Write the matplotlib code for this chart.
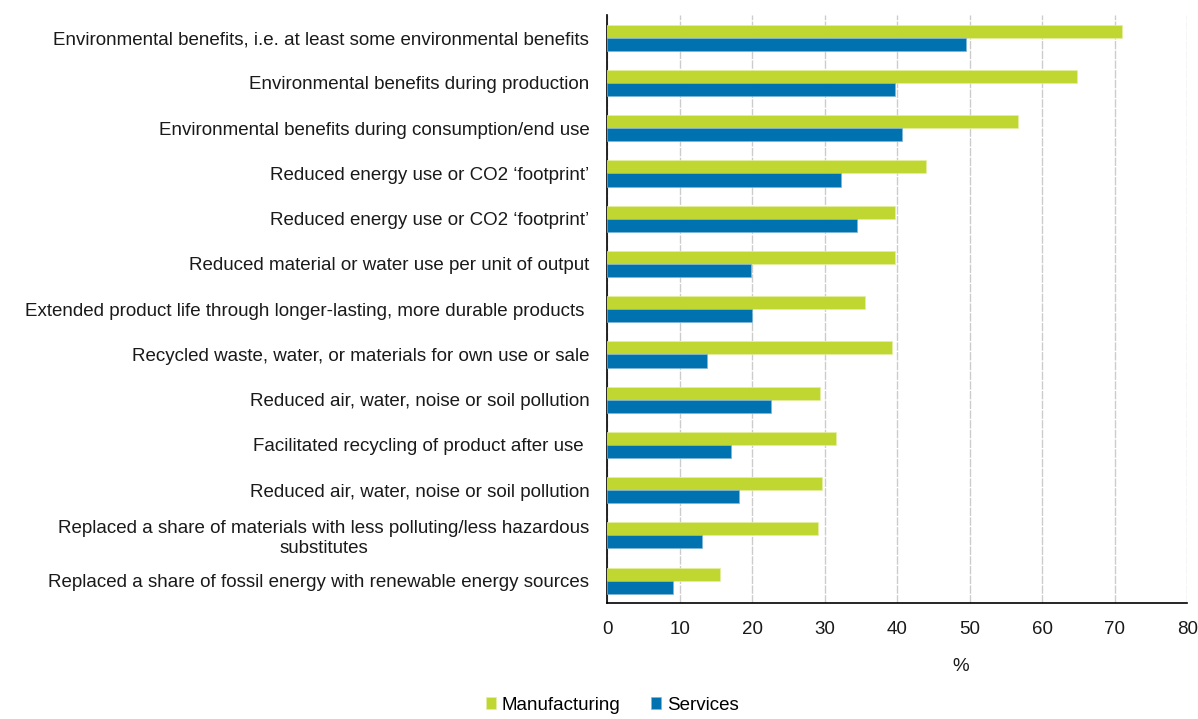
import numpy as np
import matplotlib
matplotlib.use("Agg")
import matplotlib.pyplot as plt

plt.rcParams['font.family'] = ['Liberation Sans', 'DejaVu Sans']

# categories, top to bottom
labels = [
    "Environmental benefits, i.e. at least some environmental benefits",
    "Environmental benefits during production",
    "Environmental benefits during consumption/end use",
    "Reduced energy use or CO2 \u2018footprint\u2019",
    "Reduced energy use or CO2 \u2018footprint\u2019",
    "Reduced material or water use per unit of output",
    "Extended product life through longer-lasting, more durable products ",
    "Recycled waste, water, or materials for own use or sale",
    "Reduced air, water, noise or soil pollution",
    "Facilitated recycling of product after use ",
    "Reduced air, water, noise or soil pollution",
    "Replaced a share of materials with less polluting/less hazardous\nsubstitutes",
    "Replaced a share of fossil energy with renewable energy sources",
]
manufacturing = [71.0, 64.8, 56.6, 44.0, 39.7, 39.7, 35.6, 39.3, 29.3, 31.5, 29.6, 29.1, 15.5]
services = [49.5, 39.7, 40.6, 32.2, 34.5, 19.8, 20.0, 13.8, 22.6, 17.1, 18.2, 13.1, 9.0]
xticks = [0, 10, 20, 30, 40, 50, 60, 70, 80]

green = "#bfd730"
blue = "#0072b0"
fs = 13.5

fig = plt.figure(figsize=(11.98, 7.19), dpi=100)
ax = fig.add_axes([0.507, 0.161, 0.484, 0.818])

y = np.arange(len(labels))
h = 0.29
ax.barh(y - h / 2, manufacturing, height=h, color=green, edgecolor="#e4f0a0", linewidth=0.5,
        label="Manufacturing", zorder=3)
ax.barh(y + h / 2, services, height=h, color=blue, edgecolor="#7fb6d8", linewidth=0.5,
        label="Services", zorder=3)

ax.set_ylim(len(labels) - 0.5, -0.5)
ax.set_xlim(0, 80)
ax.set_xticks(xticks)
ax.set_yticks(y)
ax.set_yticklabels(labels, fontsize=fs, multialignment="center", color="#1a1a1a")
ax.tick_params(axis="y", length=0, pad=13)
ax.tick_params(axis="x", length=0, pad=13, labelsize=fs, labelcolor="#1a1a1a")

ax.grid(axis="x", color="#cccccc", linewidth=1.0, linestyle=(0, (6, 1)), zorder=0)
ax.set_axisbelow(True)
for s in ["top", "right"]:
    ax.spines[s].set_visible(False)
ax.spines["left"].set_color("black")
ax.spines["bottom"].set_color("black")
ax.spines["left"].set_linewidth(1.2)
ax.spines["bottom"].set_linewidth(1.2)

ax.set_xlabel("%", fontsize=fs, labelpad=14, color="#1a1a1a", x=0.609)

fig.legend(loc="lower center", bbox_to_anchor=(0.511, -0.016), ncol=2, frameon=False,
           fontsize=fs, handlelength=0.55, handleheight=0.55, handletextpad=0.3,
           columnspacing=1.6)

fig.savefig("out.png", dpi=100)
